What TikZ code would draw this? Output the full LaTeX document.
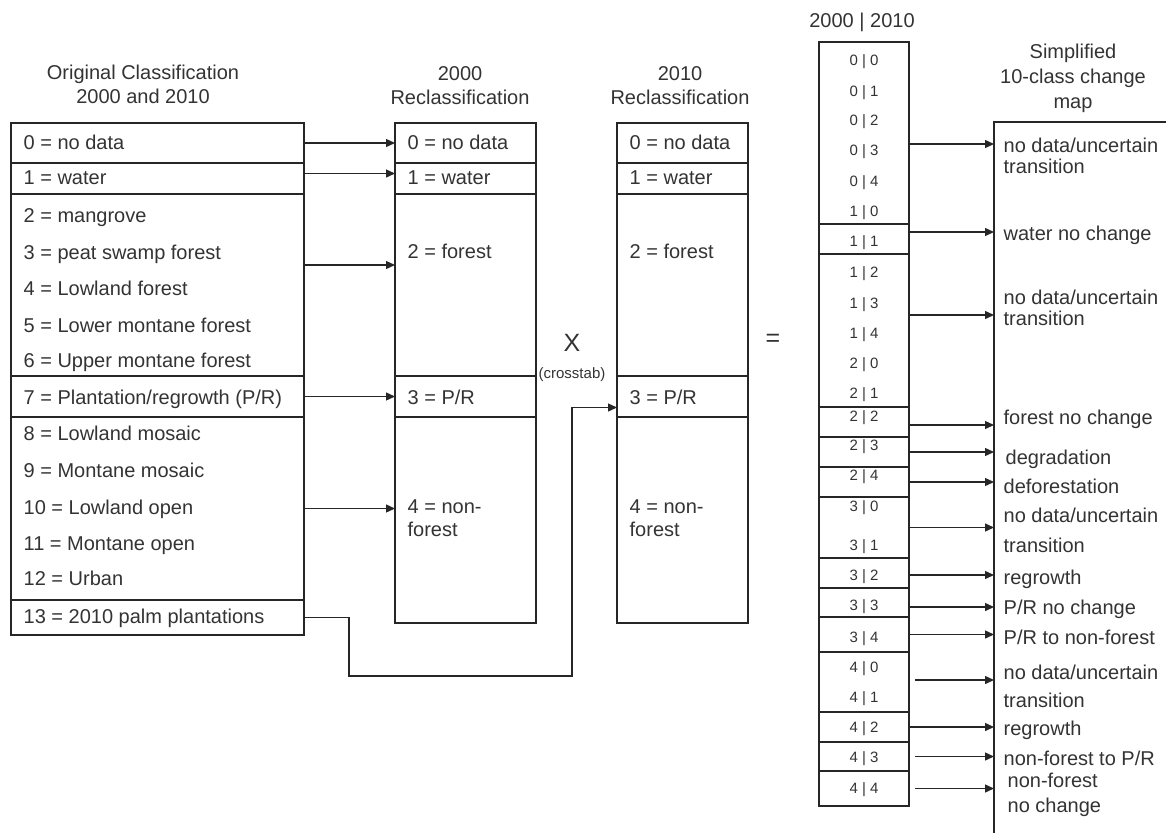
\documentclass[tikz,border=0pt]{standalone}
\usepackage{fontspec}
\setmainfont{Liberation Sans}
\usetikzlibrary{arrows.meta}

\tikzset{
  cell/.style={draw=black!85, rectangle, anchor=north west, inner sep=0pt, outer sep=0pt},
  ocell/.style={cell, minimum width=293pt},
  acell/.style={cell, minimum width=141pt},
  bcell/.style={cell, minimum width=131pt},
  ccell/.style={cell, minimum width=90pt},
  txt/.style={font=\fontsize{20}{23}\selectfont, text=black!80, inner sep=0pt},
  row/.style={txt, anchor=west, text height=14.3pt, text depth=0pt},
  note/.style={txt, anchor=west, align=left, font=\fontsize{20}{21}\selectfont},
  title/.style={txt, align=center, font=\fontsize{20}{24}\selectfont},
  pair/.style={font=\fontsize{15}{16}\selectfont, text=black!80, inner sep=0pt, text height=10.7pt, text depth=0pt},
  link/.style={->, draw=black!85},
}

\begin{document}
\begin{tikzpicture}[x=1pt, y=-1pt, line width=1.3pt, >={Triangle[length=9pt,width=8pt]}]
  \useasboundingbox (0,0) rectangle (1166,833);

  % Titles
  \node[title] (torig) at (143,84.5) {Original Classification\\2000 and 2010};
  \node[title] (ta) at (460,85.5) {2000\\Reclassification};
  \node[title] (tb) at (680,85.5) {2010\\Reclassification};
  \node[txt] (tc) at (862,22) {2000 | 2010};
  \node[title, font=\fontsize{20}{25}\selectfont] (tm) at (1073,78) {Simplified\\10-class change\\map};

  % Original classification column
  \node[ocell, minimum height=40pt] (o0) at (11,123) {};
  \node[ocell, minimum height=31pt] (o1) at (o0.south west) {};
  \node[ocell, minimum height=182pt] (o2) at (o1.south west) {};
  \node[ocell, minimum height=41pt] (o3) at (o2.south west) {};
  \node[ocell, minimum height=183pt] (o4) at (o3.south west) {};
  \node[ocell, minimum height=35pt] (o5) at (o4.south west) {};

  \node[row] (l0) at (23,142) {0 = no data};
  \node[row] (l1) at (23,177) {1 = water};
  \node[row] (l2) at (23,215) {2 = mangrove};
  \node[row] (l3) at (23,252) {3 = peat swamp forest};
  \node[row] (l4) at (23,288) {4 = Lowland forest};
  \node[row] (l5) at (23,325) {5 = Lower montane forest};
  \node[row] (l6) at (23,360) {6 = Upper montane forest};
  \node[row] (l7) at (23,397) {7 = Plantation/regrowth (P/R)};
  \node[row] (l8) at (23,433) {8 = Lowland mosaic};
  \node[row] (l9) at (23,470) {9 = Montane mosaic};
  \node[row] (l10) at (23,507) {10 = Lowland open};
  \node[row] (l11) at (23,543) {11 = Montane open};
  \node[row] (l12) at (23,578) {12 = Urban};
  \node[row] (l13) at (23,616) {13 = 2010 palm plantations};

  % 2000 reclassification
  \node[acell, minimum height=40pt] (a0) at (395,123) {};
  \node[acell, minimum height=31pt] (a1) at (a0.south west) {};
  \node[acell, minimum height=182pt] (a2) at (a1.south west) {};
  \node[acell, minimum height=41pt] (a3) at (a2.south west) {};
  \node[acell, minimum height=206pt] (a4) at (a3.south west) {};

  \node[row] (ra0) at (407,142) {0 = no data};
  \node[row] (ra1) at (407,177) {1 = water};
  \node[row] (ra2) at (407,251) {2 = forest};
  \node[row] (ra3) at (407,397) {3 = P/R};
  \node[note, font=\fontsize{20}{23}\selectfont] (ra4) at (407,518.5) {4 = non-\\forest};

  % 2010 reclassification
  \node[bcell, minimum height=40pt] (b0) at (617,123) {};
  \node[bcell, minimum height=31pt] (b1) at (b0.south west) {};
  \node[bcell, minimum height=182pt] (b2) at (b1.south west) {};
  \node[bcell, minimum height=41pt] (b3) at (b2.south west) {};
  \node[bcell, minimum height=206pt] (b4) at (b3.south west) {};

  \node[row] (rb0) at (629,142) {0 = no data};
  \node[row] (rb1) at (629,177) {1 = water};
  \node[row] (rb2) at (629,251) {2 = forest};
  \node[row] (rb3) at (629,397) {3 = P/R};
  \node[note, font=\fontsize{20}{23}\selectfont] (rb4) at (629,518.5) {4 = non-\\forest};

  % Operators
  \node[txt, font=\fontsize{25}{25}\selectfont] (cross) at (572,343) {X};
  \node[pair, text height={}] (ct) at (572,373) {(crosstab)};
  \node[txt, font=\fontsize{25}{25}\selectfont] (eq) at (773,340) {=};

  % Combined 2000|2010 column
  \node[ccell, minimum height=182pt] (c0) at (819,42) {};
  \node[ccell, minimum height=30pt] (c1) at (c0.south west) {};
  \node[ccell, minimum height=153pt] (c2) at (c1.south west) {};
  \node[ccell, minimum height=30pt] (c3) at (c2.south west) {};
  \node[ccell, minimum height=30pt] (c4) at (c3.south west) {};
  \node[ccell, minimum height=30pt] (c5) at (c4.south west) {};
  \node[ccell, minimum height=61pt] (c6) at (c5.south west) {};
  \node[ccell, minimum height=30pt] (c7) at (c6.south west) {};
  \node[ccell, minimum height=29pt] (c8) at (c7.south west) {};
  \node[ccell, minimum height=35pt] (c9) at (c8.south west) {};
  \node[ccell, minimum height=60pt] (c10) at (c9.south west) {};
  \node[ccell, minimum height=30pt] (c11) at (c10.south west) {};
  \node[ccell, minimum height=29pt] (c12) at (c11.south west) {};
  \node[ccell, minimum height=35pt] (c13) at (c12.south west) {};

  \node[pair] (p00) at (864,60) {0 | 0};
  \node[pair] (p01) at (864,91) {0 | 1};
  \node[pair] (p02) at (864,120) {0 | 2};
  \node[pair] (p03) at (864,150) {0 | 3};
  \node[pair] (p04) at (864,181) {0 | 4};
  \node[pair] (p10) at (864,211) {1 | 0};
  \node[pair] (p11) at (864,241) {1 | 1};
  \node[pair] (p12) at (864,272) {1 | 2};
  \node[pair] (p13) at (864,303) {1 | 3};
  \node[pair] (p14) at (864,333) {1 | 4};
  \node[pair] (p20) at (864,363) {2 | 0};
  \node[pair] (p21) at (864,393) {2 | 1};
  \node[pair] (p22) at (864,416) {2 | 2};
  \node[pair] (p23) at (864,445) {2 | 3};
  \node[pair] (p24) at (864,475) {2 | 4};
  \node[pair] (p30) at (864,506) {3 | 0};
  \node[pair] (p31) at (864,545) {3 | 1};
  \node[pair] (p32) at (864,575) {3 | 2};
  \node[pair] (p33) at (864,605) {3 | 3};
  \node[pair] (p34) at (864,637) {3 | 4};
  \node[pair] (p40) at (864,667) {4 | 0};
  \node[pair] (p41) at (864,697) {4 | 1};
  \node[pair] (p42) at (864,727) {4 | 2};
  \node[pair] (p43) at (864,757) {4 | 3};
  \node[pair] (p44) at (864,788) {4 | 4};

  % Change map (runs off the page)
  \coordinate (mapl) at (994,122);
  \draw[black!85] (1166,122) -- (mapl) -- (994,833);

  \node[note] (m1) at (1003,155.5) {no data/uncertain\\transition};
  \node[row] (m2) at (1003,233) {water no change};
  \node[note] (m3) at (1003,307.5) {no data/uncertain\\transition};
  \node[row] (m4) at (1003,417) {forest no change};
  \node[row] (m5) at (1005,457) {degradation};
  \node[row] (m6) at (1003,486) {deforestation};
  \node[note] (m7) at (1003,530) {no data/uncertain\\[9pt]transition};
  \node[row] (m8) at (1003,577) {regrowth};
  \node[row] (m9) at (1003,607) {P/R no change};
  \node[row] (m10) at (1003,637) {P/R to non-forest};
  \node[note] (m11) at (1003,686) {no data/uncertain\\[7pt]transition};
  \node[row] (m12) at (1003,728) {regrowth};
  \node[row] (m13) at (1003,758) {non-forest to P/R};
  \node[note] (m14) at (1007,794.5) {non-forest\\[4pt]no change};

  % Reclassification arrows
  \draw[link] (o0.east) -- (o0.east -| a0.west);
  \draw[link] ([yshift=5pt]o1.east) -- ([yshift=5pt]o1.east -| a1.west);
  \draw[link] ([yshift=20pt]o2.east) -- ([yshift=20pt]o2.east -| a2.west);
  \draw[link] (o3.east) -- (o3.east -| a3.west);
  \draw[link] (o4.east) -- (o4.east -| a4.west);

  % Palm plantations go to 2010 P/R
  \coordinate (palm1) at (349,676);
  \coordinate (palm2) at (572,676);
  \draw[link] (o5.east) -| (palm1) -- (palm2) |- ([yshift=-11pt]b3.west);

  % Change map arrows
  \draw[link] ([yshift=-11pt]c0.east) -- ([yshift=-11pt]c0.east -| mapl);
  \draw[link] ([yshift=7pt]c1.east) -- ([yshift=7pt]c1.east -| mapl);
  \draw[link] ([yshift=15.5pt]c2.east) -- ([yshift=15.5pt]c2.east -| mapl);
  \draw[link] ([yshift=-3pt]c3.east) -- ([yshift=-3pt]c3.east -| mapl);
  \draw[link] (c4.east) -- (c4.east -| mapl);
  \draw[link] (c5.east) -- (c5.east -| mapl);
  \draw[link] (c6.east) -- (c6.east -| mapl);
  \draw[link] ([yshift=-2pt]c7.east) -- ([yshift=-2pt]c7.east -| mapl);
  \draw[link] ([yshift=-4.5pt]c8.east) -- ([yshift=-4.5pt]c8.east -| mapl);
  \draw[link] (c9.east) -- (c9.east -| mapl);
  \draw[link] ([xshift=6pt,yshift=2pt]c10.east) -- ([yshift=2pt]c10.east -| mapl);
  \draw[link] (c11.east) -- (c11.east -| mapl);
  \draw[link] ([xshift=6pt]c12.east) -- (c12.east -| mapl);
  \draw[link] ([xshift=6pt]c13.east) -- (c13.east -| mapl);
\end{tikzpicture}
\end{document}
